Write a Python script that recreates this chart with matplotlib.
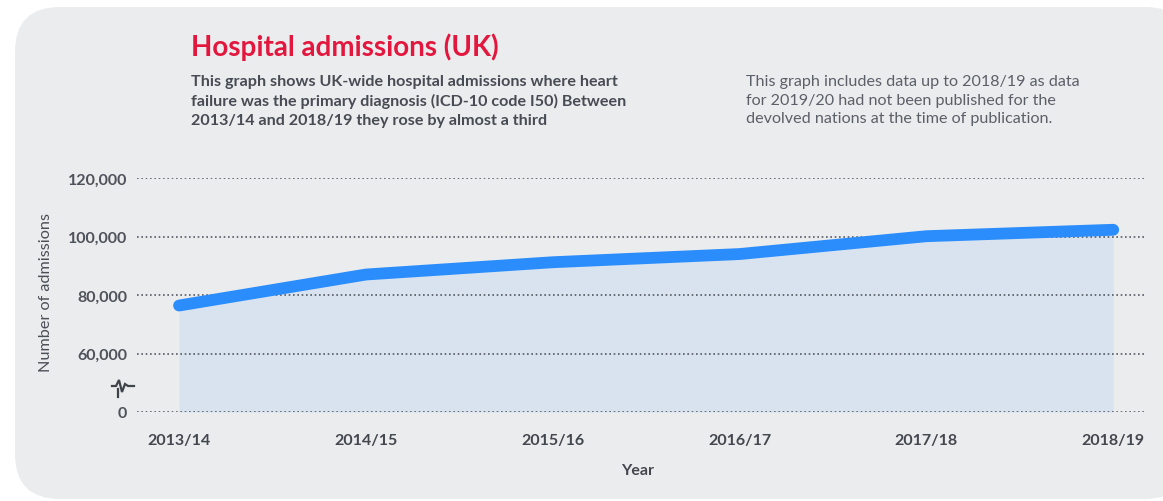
import matplotlib
matplotlib.use("Agg")
import matplotlib.pyplot as plt
from matplotlib.patches import FancyBboxPatch
from matplotlib.lines import Line2D
import numpy as np

plt.rcParams['font.family'] = ['Lato', 'DejaVu Sans']

years = ['2013/14', '2014/15', '2015/16', '2016/17', '2017/18', '2018/19']
admissions = [76400, 87000, 91200, 94000, 100100, 102300]

# the axis is broken: everything below 60,000 is squashed into one step
axis_floor = 40000
ytick_vals = [40000, 60000, 80000, 100000, 120000]
ytick_labels = ['0', '60,000', '80,000', '100,000', '120,000']

title = 'Hospital admissions (UK)'
subtitle = ('This graph shows UK-wide hospital admissions where heart\n'
            'failure was the primary diagnosis (ICD-10 code I50) Between\n'
            '2013/14 and 2018/19 they rose by almost a third')
note = ('This graph includes data up to 2018/19 as data\n'
        'for 2019/20 had not been published for the\n'
        'devolved nations at the time of publication.')

W, H = 1163, 502
fig = plt.figure(figsize=(W / 100, H / 100), dpi=100)
fig.patch.set_facecolor('white')
tr = fig.dpi_scale_trans


def px(x, y):
    return x / 100, (H - y) / 100


# rounded grey card
card = FancyBboxPatch(px(15, 500), 11.75, 4.92,
                      boxstyle='round,pad=0,rounding_size=0.45',
                      transform=tr, facecolor='#ebecee', edgecolor='none',
                      zorder=-10)
fig.add_artist(card)

fig.text(*px(191, 47), title, transform=tr, color='#e3173e', fontsize=20,
         fontweight='bold', va='center', ha='left')
fig.text(*px(191, 75), subtitle, transform=tr, color='#474b53', fontsize=11.6,
         fontweight='bold', va='top', ha='left', linespacing=1.42)
fig.text(*px(746, 75), note, transform=tr, color='#5b5f67', fontsize=11.6,
         va='top', ha='left', linespacing=1.42)

ax = fig.add_axes([137 / W, (H - 413) / H, (1145 - 137) / W, (413 - 179) / H])
ax.set_facecolor('none')
ax.set_zorder(2)
x = np.arange(len(years))

ax.fill_between(x, axis_floor, admissions, color='#d8e3ef', lw=0, zorder=1)
ax.plot(x, admissions, color='#2b8dfc', lw=8.5, solid_capstyle='round',
        solid_joinstyle='round', zorder=3)

ax.set_xlim(-0.225, 5.17)
ax.set_ylim(axis_floor, 120000)
ax.set_yticks(ytick_vals)
ax.set_yticklabels(ytick_labels)
ax.set_xticks(x)
ax.set_xticklabels(years)
for s in ax.spines.values():
    s.set_visible(False)
ax.yaxis.grid(True, linestyle=(0, (1, 1.6)), color='#555a63', lw=1.2, zorder=2)
ax.set_axisbelow(False)
ax.tick_params(axis='y', length=0, pad=7, labelsize=11.5, labelcolor='#4e525a')
ax.tick_params(axis='x', length=0, pad=15, labelsize=11.5, labelcolor='#43474e')
for lab in ax.get_xticklabels() + ax.get_yticklabels():
    lab.set_fontweight('bold')

fig.text(*px(638, 471), 'Year', transform=tr, color='#43474e', fontsize=11.5,
         fontweight='bold', ha='center', va='center')
fig.text(*px(46, 293), 'Number of admissions', transform=tr, color='#4a4e56',
         fontsize=11.7, ha='center', va='center', rotation=90)

# axis break mark
bx = [112, 116, 119, 122, 125, 128, 134]
by = [387, 387, 381, 393, 385, 387, 387]
fig.add_artist(Line2D([v / 100 for v in bx], [(H - v) / 100 for v in by],
                      transform=tr, color='#3f434a', lw=1.6,
                      solid_joinstyle='miter'))
fig.add_artist(Line2D([118 / 100, 118 / 100], [(H - 390) / 100, (H - 398) / 100],
                      transform=tr, color='#3f434a', lw=1.6))

fig.savefig('out.png', dpi=100)
